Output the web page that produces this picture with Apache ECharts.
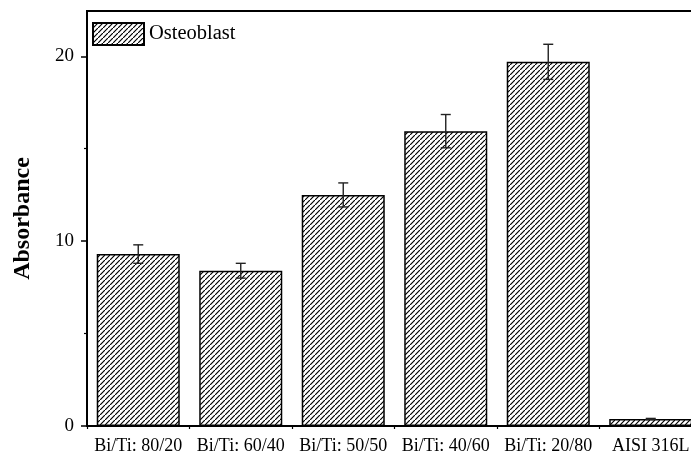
<!DOCTYPE html>
<html>
<head>
<meta charset="utf-8">
<script src="https://cdn.jsdelivr.net/npm/echarts@6/dist/echarts.min.js"></script>
<style>
html,body{margin:0;padding:0;background:#fff;}
#chart{width:691px;height:457px;}
</style>
</head>
<body>
<div id="chart"></div>
<script>
const categories = ['Bi/Ti: 80/20', 'Bi/Ti: 60/40', 'Bi/Ti: 50/50', 'Bi/Ti: 40/60', 'Bi/Ti: 20/80', 'AISI 316L'];
const osteoblast = [9.3, 8.4, 12.5, 15.95, 19.7, 0.38];
const errors = [0.5, 0.4, 0.65, 0.9, 0.95, 0.03];
const seriesName = 'Osteoblast';
const yTicks = [0, 10, 20];
const yMinorTicks = [5, 15];

function hatch() {
  const s = 5;
  const c = document.createElement('canvas');
  c.width = s; c.height = s;
  const g = c.getContext('2d');
  g.fillStyle = '#ffffff';
  g.fillRect(0, 0, s, s);
  g.strokeStyle = '#000';
  g.lineWidth = 1.2;
  g.beginPath();
  g.moveTo(-1, s + 1); g.lineTo(s + 1, -1);
  g.moveTo(-2, 1); g.lineTo(1, -2);
  g.moveTo(s - 1, s + 2); g.lineTo(s + 2, s - 1);
  g.stroke();
  return c;
}
const pattern = { image: hatch(), repeat: 'repeat' };
const font = 'Liberation Serif';

const chart = echarts.init(document.getElementById('chart'));
chart.setOption({
  animation: false,
  backgroundColor: '#fff',
  grid: { left: 87, top: 11, right: -11, bottom: 31, outerBoundsMode: 'none', containLabel: false,
          show: true, borderColor: '#000', borderWidth: 2 },
  legend: {
    data: [seriesName], left: 87, top: 17, icon: 'rect', itemWidth: 51, itemHeight: 22, itemGap: 6,
    textStyle: { fontFamily: font, fontSize: 20.5, color: '#000' }
  },
  xAxis: [{
    type: 'category', data: categories, position: 'bottom',
    axisLine: { lineStyle: { color: '#000', width: 2 } },
    axisTick: { alignWithLabel: true, interval: 0, length: 6, lineStyle: { color: '#000', width: 1.5 } },
    axisLabel: { interval: 0, fontFamily: font, fontSize: 18, color: '#000', margin: 11 }
  }, {
    type: 'category', data: categories, position: 'bottom',
    axisLine: { show: false },
    axisTick: { show: true, interval: 0, length: 3, lineStyle: { color: '#000', width: 1.2 } },
    axisLabel: { show: false }
  }],
  yAxis: [{
    type: 'value', min: 0, max: 22.45,
    name: 'Absorbance', nameLocation: 'middle', nameGap: 52,
    nameTextStyle: { fontFamily: font, fontSize: 24, fontWeight: 'bold', color: '#000' },
    axisLine: { show: true, lineStyle: { color: '#000', width: 2 } },
    axisTick: { show: true, customValues: yTicks, length: 6, lineStyle: { color: '#000', width: 1.5 } },
    splitLine: { show: false },
    axisLabel: { customValues: yTicks, fontFamily: font, fontSize: 19, color: '#000', margin: 13 }
  }, {
    type: 'value', min: 0, max: 22.45, position: 'left',
    axisLine: { show: false },
    axisTick: { show: true, customValues: yMinorTicks, length: 3, lineStyle: { color: '#000', width: 1.2 } },
    splitLine: { show: false },
    axisLabel: { show: false }
  }],
  series: [{
    name: seriesName, type: 'bar', data: osteoblast, barCategoryGap: '19%',
    itemStyle: { color: pattern, borderColor: '#000', borderWidth: 1.5 }
  }, {
    type: 'custom', silent: true,
    data: osteoblast.map((v, i) => [i, v - errors[i], v + errors[i]]),
    renderItem: function (params, api) {
      const lo = api.coord([api.value(0), api.value(1)]);
      const hi = api.coord([api.value(0), api.value(2)]);
      const w = 5;
      const st = { stroke: '#222', lineWidth: 1.4 };
      return { type: 'group', children: [
        { type: 'line', shape: { x1: hi[0], y1: hi[1], x2: lo[0], y2: lo[1] }, style: st },
        { type: 'line', shape: { x1: hi[0] - w, y1: hi[1], x2: hi[0] + w, y2: hi[1] }, style: st },
        { type: 'line', shape: { x1: lo[0] - w, y1: lo[1], x2: lo[0] + w, y2: lo[1] }, style: st }
      ] };
    },
    z: 5
  }]
});
</script>
</body>
</html>
